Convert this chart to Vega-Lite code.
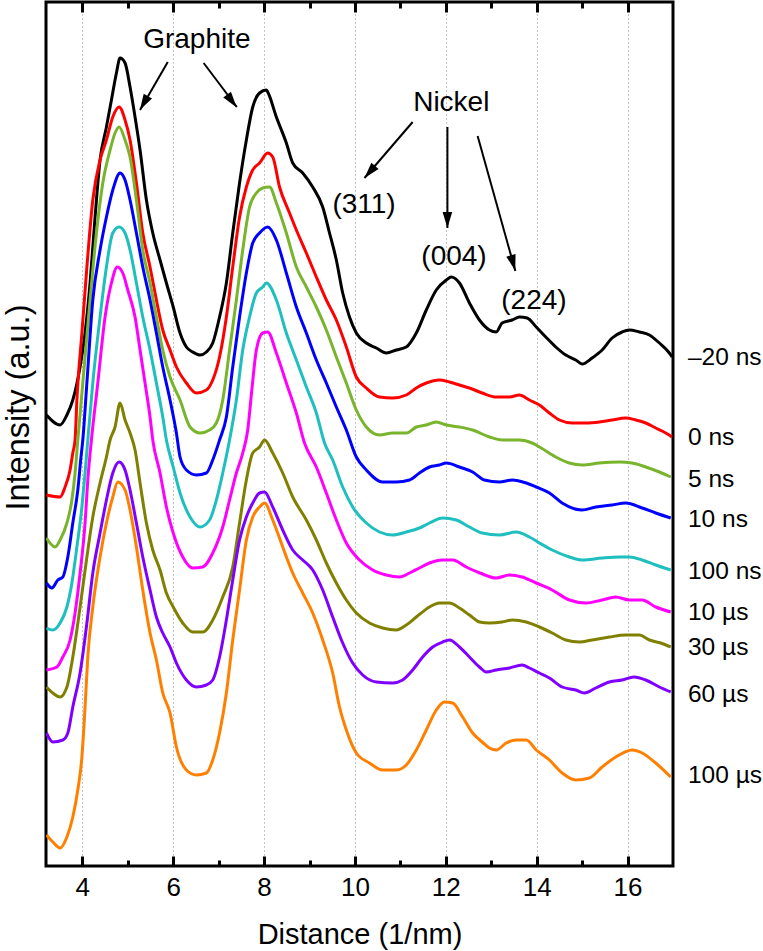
{
"$schema": "https://vega.github.io/schema/vega-lite/v6.json",
"width": 627, "height": 864,
"autosize": {"type": "none"},
"padding": {"left": 46, "top": 2, "right": 90, "bottom": 85},
"background": "white",
"config": {"view": {"stroke": "#000", "strokeWidth": 3}, "font": "Liberation Sans"},
"datasets": {
"curves": [
{"t":"–20 ns","x":3.21,"y":451},{"t":"–20 ns","x":3.51,"y":441},{"t":"–20 ns","x":3.66,"y":451},{"t":"–20 ns","x":3.79,"y":466},{"t":"–20 ns","x":3.95,"y":499},{"t":"–20 ns","x":4.06,"y":533},{"t":"–20 ns","x":4.17,"y":583},{"t":"–20 ns","x":4.28,"y":649},{"t":"–20 ns","x":4.39,"y":706},{"t":"–20 ns","x":4.53,"y":739},{"t":"–20 ns","x":4.64,"y":766},{"t":"–20 ns","x":4.75,"y":793},{"t":"–20 ns","x":4.83,"y":808},{"t":"–20 ns","x":4.94,"y":803},{"t":"–20 ns","x":5.05,"y":779},{"t":"–20 ns","x":5.16,"y":749},{"t":"–20 ns","x":5.27,"y":716},{"t":"–20 ns","x":5.41,"y":666},{"t":"–20 ns","x":5.55,"y":633},{"t":"–20 ns","x":5.71,"y":606},{"t":"–20 ns","x":5.85,"y":583},{"t":"–20 ns","x":6.0,"y":559},{"t":"–20 ns","x":6.15,"y":533},{"t":"–20 ns","x":6.29,"y":519},{"t":"–20 ns","x":6.43,"y":514},{"t":"–20 ns","x":6.59,"y":511},{"t":"–20 ns","x":6.73,"y":514},{"t":"–20 ns","x":6.87,"y":523},{"t":"–20 ns","x":7.02,"y":549},{"t":"–20 ns","x":7.17,"y":583},{"t":"–20 ns","x":7.31,"y":633},{"t":"–20 ns","x":7.46,"y":683},{"t":"–20 ns","x":7.61,"y":726},{"t":"–20 ns","x":7.75,"y":759},{"t":"–20 ns","x":7.9,"y":773},{"t":"–20 ns","x":8.05,"y":776},{"t":"–20 ns","x":8.08,"y":774},{"t":"–20 ns","x":8.27,"y":749},{"t":"–20 ns","x":8.49,"y":723},{"t":"–20 ns","x":8.63,"y":703},{"t":"–20 ns","x":8.85,"y":693},{"t":"–20 ns","x":9.07,"y":679},{"t":"–20 ns","x":9.29,"y":659},{"t":"–20 ns","x":9.44,"y":633},{"t":"–20 ns","x":9.59,"y":606},{"t":"–20 ns","x":9.73,"y":573},{"t":"–20 ns","x":9.88,"y":549},{"t":"–20 ns","x":10.03,"y":533},{"t":"–20 ns","x":10.25,"y":523},{"t":"–20 ns","x":10.47,"y":518},{"t":"–20 ns","x":10.69,"y":513},{"t":"–20 ns","x":10.91,"y":516},{"t":"–20 ns","x":11.13,"y":519},{"t":"–20 ns","x":11.35,"y":533},{"t":"–20 ns","x":11.57,"y":556},{"t":"–20 ns","x":11.79,"y":576},{"t":"–20 ns","x":12.01,"y":586},{"t":"–20 ns","x":12.12,"y":589},{"t":"–20 ns","x":12.3,"y":583},{"t":"–20 ns","x":12.52,"y":563},{"t":"–20 ns","x":12.74,"y":546},{"t":"–20 ns","x":12.96,"y":536},{"t":"–20 ns","x":13.11,"y":534},{"t":"–20 ns","x":13.24,"y":543},{"t":"–20 ns","x":13.46,"y":546},{"t":"–20 ns","x":13.62,"y":549},{"t":"–20 ns","x":13.79,"y":548},{"t":"–20 ns","x":13.99,"y":539},{"t":"–20 ns","x":14.2,"y":529},{"t":"–20 ns","x":14.42,"y":519},{"t":"–20 ns","x":14.64,"y":511},{"t":"–20 ns","x":14.86,"y":506},{"t":"–20 ns","x":15.0,"y":502},{"t":"–20 ns","x":15.22,"y":508},{"t":"–20 ns","x":15.44,"y":516},{"t":"–20 ns","x":15.66,"y":528},{"t":"–20 ns","x":15.88,"y":534},{"t":"–20 ns","x":16.04,"y":536},{"t":"–20 ns","x":16.26,"y":534},{"t":"–20 ns","x":16.48,"y":531},{"t":"–20 ns","x":16.7,"y":523},{"t":"–20 ns","x":16.92,"y":513},{"t":"–20 ns","x":16.98,"y":509},
{"t":"0 ns","x":3.21,"y":371},{"t":"0 ns","x":3.51,"y":369},{"t":"0 ns","x":3.62,"y":379},{"t":"0 ns","x":3.73,"y":396},{"t":"0 ns","x":3.79,"y":413},{"t":"0 ns","x":3.84,"y":426},{"t":"0 ns","x":3.88,"y":466},{"t":"0 ns","x":3.99,"y":533},{"t":"0 ns","x":4.1,"y":599},{"t":"0 ns","x":4.23,"y":666},{"t":"0 ns","x":4.39,"y":706},{"t":"0 ns","x":4.53,"y":726},{"t":"0 ns","x":4.67,"y":749},{"t":"0 ns","x":4.81,"y":759},{"t":"0 ns","x":4.94,"y":746},{"t":"0 ns","x":5.05,"y":726},{"t":"0 ns","x":5.19,"y":683},{"t":"0 ns","x":5.33,"y":633},{"t":"0 ns","x":5.49,"y":599},{"t":"0 ns","x":5.63,"y":566},{"t":"0 ns","x":5.77,"y":536},{"t":"0 ns","x":5.93,"y":516},{"t":"0 ns","x":6.07,"y":499},{"t":"0 ns","x":6.29,"y":483},{"t":"0 ns","x":6.51,"y":473},{"t":"0 ns","x":6.73,"y":476},{"t":"0 ns","x":6.87,"y":486},{"t":"0 ns","x":7.02,"y":509},{"t":"0 ns","x":7.17,"y":549},{"t":"0 ns","x":7.31,"y":599},{"t":"0 ns","x":7.46,"y":649},{"t":"0 ns","x":7.61,"y":679},{"t":"0 ns","x":7.75,"y":696},{"t":"0 ns","x":7.9,"y":703},{"t":"0 ns","x":8.08,"y":713},{"t":"0 ns","x":8.19,"y":709},{"t":"0 ns","x":8.34,"y":679},{"t":"0 ns","x":8.56,"y":653},{"t":"0 ns","x":8.71,"y":636},{"t":"0 ns","x":8.93,"y":613},{"t":"0 ns","x":9.15,"y":589},{"t":"0 ns","x":9.37,"y":566},{"t":"0 ns","x":9.59,"y":546},{"t":"0 ns","x":9.81,"y":519},{"t":"0 ns","x":10.03,"y":489},{"t":"0 ns","x":10.25,"y":478},{"t":"0 ns","x":10.54,"y":469},{"t":"0 ns","x":10.83,"y":468},{"t":"0 ns","x":11.13,"y":471},{"t":"0 ns","x":11.35,"y":478},{"t":"0 ns","x":11.57,"y":483},{"t":"0 ns","x":11.86,"y":486},{"t":"0 ns","x":12.08,"y":484},{"t":"0 ns","x":12.3,"y":481},{"t":"0 ns","x":12.52,"y":478},{"t":"0 ns","x":12.8,"y":473},{"t":"0 ns","x":13.11,"y":469},{"t":"0 ns","x":13.4,"y":469},{"t":"0 ns","x":13.62,"y":471},{"t":"0 ns","x":13.84,"y":466},{"t":"0 ns","x":14.06,"y":461},{"t":"0 ns","x":14.28,"y":453},{"t":"0 ns","x":14.5,"y":446},{"t":"0 ns","x":14.78,"y":443},{"t":"0 ns","x":15.08,"y":443},{"t":"0 ns","x":15.38,"y":444},{"t":"0 ns","x":15.66,"y":446},{"t":"0 ns","x":15.96,"y":448},{"t":"0 ns","x":16.18,"y":446},{"t":"0 ns","x":16.4,"y":443},{"t":"0 ns","x":16.62,"y":438},{"t":"0 ns","x":16.84,"y":433},{"t":"0 ns","x":16.98,"y":429},
{"t":"5 ns","x":3.21,"y":328},{"t":"5 ns","x":3.4,"y":319},{"t":"5 ns","x":3.51,"y":326},{"t":"5 ns","x":3.66,"y":343},{"t":"5 ns","x":3.77,"y":366},{"t":"5 ns","x":3.84,"y":393},{"t":"5 ns","x":3.9,"y":426},{"t":"5 ns","x":4.01,"y":483},{"t":"5 ns","x":4.17,"y":566},{"t":"5 ns","x":4.31,"y":633},{"t":"5 ns","x":4.45,"y":683},{"t":"5 ns","x":4.61,"y":716},{"t":"5 ns","x":4.72,"y":733},{"t":"5 ns","x":4.81,"y":739},{"t":"5 ns","x":4.94,"y":726},{"t":"5 ns","x":5.05,"y":709},{"t":"5 ns","x":5.19,"y":666},{"t":"5 ns","x":5.33,"y":616},{"t":"5 ns","x":5.49,"y":583},{"t":"5 ns","x":5.63,"y":549},{"t":"5 ns","x":5.77,"y":516},{"t":"5 ns","x":5.93,"y":489},{"t":"5 ns","x":6.15,"y":466},{"t":"5 ns","x":6.37,"y":439},{"t":"5 ns","x":6.59,"y":433},{"t":"5 ns","x":6.8,"y":436},{"t":"5 ns","x":6.95,"y":443},{"t":"5 ns","x":7.09,"y":466},{"t":"5 ns","x":7.24,"y":516},{"t":"5 ns","x":7.39,"y":566},{"t":"5 ns","x":7.53,"y":616},{"t":"5 ns","x":7.68,"y":659},{"t":"5 ns","x":7.83,"y":673},{"t":"5 ns","x":7.97,"y":678},{"t":"5 ns","x":8.12,"y":679},{"t":"5 ns","x":8.27,"y":663},{"t":"5 ns","x":8.49,"y":633},{"t":"5 ns","x":8.71,"y":599},{"t":"5 ns","x":8.93,"y":579},{"t":"5 ns","x":9.15,"y":559},{"t":"5 ns","x":9.37,"y":536},{"t":"5 ns","x":9.59,"y":509},{"t":"5 ns","x":9.81,"y":483},{"t":"5 ns","x":10.03,"y":456},{"t":"5 ns","x":10.25,"y":439},{"t":"5 ns","x":10.54,"y":431},{"t":"5 ns","x":10.83,"y":433},{"t":"5 ns","x":11.13,"y":433},{"t":"5 ns","x":11.35,"y":439},{"t":"5 ns","x":11.57,"y":441},{"t":"5 ns","x":11.79,"y":444},{"t":"5 ns","x":12.01,"y":441},{"t":"5 ns","x":12.3,"y":439},{"t":"5 ns","x":12.59,"y":436},{"t":"5 ns","x":12.96,"y":429},{"t":"5 ns","x":13.24,"y":426},{"t":"5 ns","x":13.62,"y":426},{"t":"5 ns","x":13.9,"y":423},{"t":"5 ns","x":14.1,"y":418},{"t":"5 ns","x":14.42,"y":409},{"t":"5 ns","x":14.72,"y":403},{"t":"5 ns","x":15.0,"y":401},{"t":"5 ns","x":15.38,"y":403},{"t":"5 ns","x":15.82,"y":404},{"t":"5 ns","x":16.1,"y":403},{"t":"5 ns","x":16.4,"y":399},{"t":"5 ns","x":16.7,"y":394},{"t":"5 ns","x":16.95,"y":389},
{"t":"10 ns","x":3.21,"y":283},{"t":"10 ns","x":3.33,"y":278},{"t":"10 ns","x":3.46,"y":286},{"t":"10 ns","x":3.57,"y":289},{"t":"10 ns","x":3.68,"y":309},{"t":"10 ns","x":3.79,"y":343},{"t":"10 ns","x":3.9,"y":376},{"t":"10 ns","x":3.97,"y":409},{"t":"10 ns","x":4.01,"y":426},{"t":"10 ns","x":4.1,"y":483},{"t":"10 ns","x":4.23,"y":566},{"t":"10 ns","x":4.39,"y":616},{"t":"10 ns","x":4.53,"y":649},{"t":"10 ns","x":4.67,"y":676},{"t":"10 ns","x":4.83,"y":693},{"t":"10 ns","x":4.94,"y":686},{"t":"10 ns","x":5.05,"y":666},{"t":"10 ns","x":5.19,"y":633},{"t":"10 ns","x":5.33,"y":599},{"t":"10 ns","x":5.49,"y":566},{"t":"10 ns","x":5.63,"y":533},{"t":"10 ns","x":5.77,"y":499},{"t":"10 ns","x":5.93,"y":466},{"t":"10 ns","x":6.07,"y":433},{"t":"10 ns","x":6.15,"y":409},{"t":"10 ns","x":6.29,"y":396},{"t":"10 ns","x":6.51,"y":391},{"t":"10 ns","x":6.73,"y":393},{"t":"10 ns","x":6.87,"y":406},{"t":"10 ns","x":7.02,"y":426},{"t":"10 ns","x":7.17,"y":449},{"t":"10 ns","x":7.31,"y":499},{"t":"10 ns","x":7.46,"y":549},{"t":"10 ns","x":7.61,"y":593},{"t":"10 ns","x":7.75,"y":623},{"t":"10 ns","x":7.9,"y":633},{"t":"10 ns","x":8.08,"y":639},{"t":"10 ns","x":8.27,"y":626},{"t":"10 ns","x":8.49,"y":593},{"t":"10 ns","x":8.71,"y":559},{"t":"10 ns","x":8.93,"y":533},{"t":"10 ns","x":9.15,"y":506},{"t":"10 ns","x":9.37,"y":483},{"t":"10 ns","x":9.59,"y":459},{"t":"10 ns","x":9.81,"y":436},{"t":"10 ns","x":10.03,"y":409},{"t":"10 ns","x":10.25,"y":396},{"t":"10 ns","x":10.61,"y":384},{"t":"10 ns","x":10.91,"y":384},{"t":"10 ns","x":11.2,"y":386},{"t":"10 ns","x":11.42,"y":393},{"t":"10 ns","x":11.64,"y":399},{"t":"10 ns","x":11.86,"y":401},{"t":"10 ns","x":12.01,"y":403},{"t":"10 ns","x":12.3,"y":399},{"t":"10 ns","x":12.59,"y":394},{"t":"10 ns","x":12.85,"y":386},{"t":"10 ns","x":13.18,"y":384},{"t":"10 ns","x":13.46,"y":386},{"t":"10 ns","x":13.77,"y":383},{"t":"10 ns","x":13.99,"y":379},{"t":"10 ns","x":14.28,"y":373},{"t":"10 ns","x":14.56,"y":363},{"t":"10 ns","x":15.0,"y":356},{"t":"10 ns","x":15.3,"y":359},{"t":"10 ns","x":15.66,"y":361},{"t":"10 ns","x":15.96,"y":363},{"t":"10 ns","x":16.32,"y":358},{"t":"10 ns","x":16.62,"y":353},{"t":"10 ns","x":16.95,"y":348},
{"t":"100 ns","x":3.21,"y":238},{"t":"100 ns","x":3.35,"y":236},{"t":"100 ns","x":3.51,"y":243},{"t":"100 ns","x":3.66,"y":259},{"t":"100 ns","x":3.77,"y":283},{"t":"100 ns","x":3.88,"y":319},{"t":"100 ns","x":3.99,"y":359},{"t":"100 ns","x":4.06,"y":393},{"t":"100 ns","x":4.12,"y":426},{"t":"100 ns","x":4.23,"y":483},{"t":"100 ns","x":4.39,"y":549},{"t":"100 ns","x":4.53,"y":599},{"t":"100 ns","x":4.67,"y":633},{"t":"100 ns","x":4.81,"y":639},{"t":"100 ns","x":4.94,"y":633},{"t":"100 ns","x":5.05,"y":616},{"t":"100 ns","x":5.19,"y":583},{"t":"100 ns","x":5.33,"y":549},{"t":"100 ns","x":5.49,"y":516},{"t":"100 ns","x":5.63,"y":483},{"t":"100 ns","x":5.77,"y":449},{"t":"100 ns","x":5.85,"y":426},{"t":"100 ns","x":6.0,"y":399},{"t":"100 ns","x":6.15,"y":373},{"t":"100 ns","x":6.37,"y":349},{"t":"100 ns","x":6.59,"y":339},{"t":"100 ns","x":6.8,"y":346},{"t":"100 ns","x":6.95,"y":366},{"t":"100 ns","x":7.09,"y":393},{"t":"100 ns","x":7.24,"y":426},{"t":"100 ns","x":7.39,"y":466},{"t":"100 ns","x":7.53,"y":516},{"t":"100 ns","x":7.68,"y":549},{"t":"100 ns","x":7.83,"y":573},{"t":"100 ns","x":7.97,"y":579},{"t":"100 ns","x":8.05,"y":583},{"t":"100 ns","x":8.27,"y":566},{"t":"100 ns","x":8.49,"y":533},{"t":"100 ns","x":8.71,"y":506},{"t":"100 ns","x":8.93,"y":479},{"t":"100 ns","x":9.15,"y":453},{"t":"100 ns","x":9.33,"y":423},{"t":"100 ns","x":9.51,"y":406},{"t":"100 ns","x":9.73,"y":379},{"t":"100 ns","x":9.95,"y":359},{"t":"100 ns","x":10.25,"y":343},{"t":"100 ns","x":10.54,"y":334},{"t":"100 ns","x":10.83,"y":331},{"t":"100 ns","x":11.13,"y":334},{"t":"100 ns","x":11.42,"y":338},{"t":"100 ns","x":11.64,"y":343},{"t":"100 ns","x":11.93,"y":348},{"t":"100 ns","x":12.23,"y":346},{"t":"100 ns","x":12.52,"y":339},{"t":"100 ns","x":12.8,"y":333},{"t":"100 ns","x":13.18,"y":331},{"t":"100 ns","x":13.55,"y":334},{"t":"100 ns","x":13.84,"y":329},{"t":"100 ns","x":14.06,"y":323},{"t":"100 ns","x":14.34,"y":316},{"t":"100 ns","x":14.72,"y":309},{"t":"100 ns","x":15.0,"y":306},{"t":"100 ns","x":15.44,"y":308},{"t":"100 ns","x":15.82,"y":309},{"t":"100 ns","x":16.04,"y":309},{"t":"100 ns","x":16.32,"y":306},{"t":"100 ns","x":16.62,"y":301},{"t":"100 ns","x":16.95,"y":296},
{"t":"10 µs","x":3.21,"y":196},{"t":"10 µs","x":3.44,"y":199},{"t":"10 µs","x":3.57,"y":209},{"t":"10 µs","x":3.73,"y":226},{"t":"10 µs","x":3.84,"y":253},{"t":"10 µs","x":3.95,"y":293},{"t":"10 µs","x":4.06,"y":343},{"t":"10 µs","x":4.12,"y":386},{"t":"10 µs","x":4.2,"y":426},{"t":"10 µs","x":4.34,"y":483},{"t":"10 µs","x":4.5,"y":549},{"t":"10 µs","x":4.64,"y":583},{"t":"10 µs","x":4.77,"y":599},{"t":"10 µs","x":4.89,"y":593},{"t":"10 µs","x":5.0,"y":576},{"t":"10 µs","x":5.16,"y":549},{"t":"10 µs","x":5.27,"y":516},{"t":"10 µs","x":5.38,"y":483},{"t":"10 µs","x":5.49,"y":449},{"t":"10 µs","x":5.55,"y":426},{"t":"10 µs","x":5.71,"y":393},{"t":"10 µs","x":5.85,"y":359},{"t":"10 µs","x":6.0,"y":333},{"t":"10 µs","x":6.21,"y":309},{"t":"10 µs","x":6.43,"y":298},{"t":"10 µs","x":6.65,"y":299},{"t":"10 µs","x":6.87,"y":313},{"t":"10 µs","x":7.09,"y":339},{"t":"10 µs","x":7.24,"y":366},{"t":"10 µs","x":7.39,"y":393},{"t":"10 µs","x":7.53,"y":413},{"t":"10 µs","x":7.64,"y":436},{"t":"10 µs","x":7.73,"y":476},{"t":"10 µs","x":7.83,"y":516},{"t":"10 µs","x":7.97,"y":533},{"t":"10 µs","x":8.08,"y":534},{"t":"10 µs","x":8.27,"y":513},{"t":"10 µs","x":8.49,"y":483},{"t":"10 µs","x":8.71,"y":453},{"t":"10 µs","x":8.89,"y":423},{"t":"10 µs","x":9.15,"y":399},{"t":"10 µs","x":9.37,"y":373},{"t":"10 µs","x":9.59,"y":346},{"t":"10 µs","x":9.81,"y":323},{"t":"10 µs","x":10.1,"y":306},{"t":"10 µs","x":10.39,"y":296},{"t":"10 µs","x":10.69,"y":291},{"t":"10 µs","x":10.98,"y":289},{"t":"10 µs","x":11.2,"y":293},{"t":"10 µs","x":11.42,"y":298},{"t":"10 µs","x":11.64,"y":303},{"t":"10 µs","x":11.93,"y":306},{"t":"10 µs","x":12.15,"y":306},{"t":"10 µs","x":12.45,"y":299},{"t":"10 µs","x":12.75,"y":293},{"t":"10 µs","x":13.11,"y":288},{"t":"10 µs","x":13.4,"y":291},{"t":"10 µs","x":13.68,"y":289},{"t":"10 µs","x":13.99,"y":283},{"t":"10 µs","x":14.34,"y":276},{"t":"10 µs","x":14.72,"y":266},{"t":"10 µs","x":15.08,"y":263},{"t":"10 µs","x":15.44,"y":266},{"t":"10 µs","x":15.74,"y":269},{"t":"10 µs","x":16.04,"y":266},{"t":"10 µs","x":16.32,"y":266},{"t":"10 µs","x":16.62,"y":259},{"t":"10 µs","x":16.95,"y":254},
{"t":"30 µs","x":3.21,"y":179},{"t":"30 µs","x":3.35,"y":173},{"t":"30 µs","x":3.51,"y":169},{"t":"30 µs","x":3.66,"y":179},{"t":"30 µs","x":3.79,"y":209},{"t":"30 µs","x":3.95,"y":259},{"t":"30 µs","x":4.1,"y":309},{"t":"30 µs","x":4.23,"y":349},{"t":"30 µs","x":4.39,"y":383},{"t":"30 µs","x":4.53,"y":409},{"t":"30 µs","x":4.61,"y":426},{"t":"30 µs","x":4.72,"y":439},{"t":"30 µs","x":4.83,"y":463},{"t":"30 µs","x":4.94,"y":446},{"t":"30 µs","x":5.05,"y":433},{"t":"30 µs","x":5.16,"y":416},{"t":"30 µs","x":5.27,"y":383},{"t":"30 µs","x":5.41,"y":343},{"t":"30 µs","x":5.55,"y":316},{"t":"30 µs","x":5.71,"y":296},{"t":"30 µs","x":5.85,"y":273},{"t":"30 µs","x":6.0,"y":259},{"t":"30 µs","x":6.21,"y":243},{"t":"30 µs","x":6.43,"y":234},{"t":"30 µs","x":6.65,"y":234},{"t":"30 µs","x":6.87,"y":246},{"t":"30 µs","x":7.09,"y":269},{"t":"30 µs","x":7.31,"y":299},{"t":"30 µs","x":7.46,"y":343},{"t":"30 µs","x":7.61,"y":386},{"t":"30 µs","x":7.75,"y":413},{"t":"30 µs","x":7.9,"y":419},{"t":"30 µs","x":8.01,"y":426},{"t":"30 µs","x":8.19,"y":413},{"t":"30 µs","x":8.41,"y":393},{"t":"30 µs","x":8.63,"y":369},{"t":"30 µs","x":8.93,"y":346},{"t":"30 µs","x":9.15,"y":326},{"t":"30 µs","x":9.37,"y":303},{"t":"30 µs","x":9.59,"y":283},{"t":"30 µs","x":9.81,"y":266},{"t":"30 µs","x":10.03,"y":253},{"t":"30 µs","x":10.32,"y":243},{"t":"30 µs","x":10.61,"y":238},{"t":"30 µs","x":10.91,"y":236},{"t":"30 µs","x":11.13,"y":241},{"t":"30 µs","x":11.35,"y":249},{"t":"30 µs","x":11.64,"y":259},{"t":"30 µs","x":11.86,"y":263},{"t":"30 µs","x":12.08,"y":263},{"t":"30 µs","x":12.3,"y":258},{"t":"30 µs","x":12.52,"y":251},{"t":"30 µs","x":12.74,"y":244},{"t":"30 µs","x":12.96,"y":243},{"t":"30 µs","x":13.24,"y":244},{"t":"30 µs","x":13.46,"y":246},{"t":"30 µs","x":13.77,"y":244},{"t":"30 µs","x":14.06,"y":239},{"t":"30 µs","x":14.34,"y":233},{"t":"30 µs","x":14.64,"y":226},{"t":"30 µs","x":14.94,"y":224},{"t":"30 µs","x":15.22,"y":226},{"t":"30 µs","x":15.6,"y":229},{"t":"30 µs","x":15.96,"y":231},{"t":"30 µs","x":16.26,"y":231},{"t":"30 µs","x":16.48,"y":226},{"t":"30 µs","x":16.73,"y":223},{"t":"30 µs","x":16.95,"y":219},
{"t":"60 µs","x":3.21,"y":133},{"t":"60 µs","x":3.35,"y":124},{"t":"60 µs","x":3.57,"y":126},{"t":"60 µs","x":3.68,"y":133},{"t":"60 µs","x":3.79,"y":159},{"t":"60 µs","x":3.95,"y":193},{"t":"60 µs","x":4.1,"y":243},{"t":"60 µs","x":4.23,"y":293},{"t":"60 µs","x":4.39,"y":333},{"t":"60 µs","x":4.53,"y":366},{"t":"60 µs","x":4.67,"y":393},{"t":"60 µs","x":4.81,"y":404},{"t":"60 µs","x":4.94,"y":396},{"t":"60 µs","x":5.05,"y":376},{"t":"60 µs","x":5.19,"y":343},{"t":"60 µs","x":5.33,"y":309},{"t":"60 µs","x":5.49,"y":276},{"t":"60 µs","x":5.63,"y":249},{"t":"60 µs","x":5.77,"y":233},{"t":"60 µs","x":5.93,"y":219},{"t":"60 µs","x":6.07,"y":203},{"t":"60 µs","x":6.29,"y":186},{"t":"60 µs","x":6.51,"y":179},{"t":"60 µs","x":6.73,"y":181},{"t":"60 µs","x":6.87,"y":186},{"t":"60 µs","x":7.02,"y":209},{"t":"60 µs","x":7.17,"y":246},{"t":"60 µs","x":7.31,"y":286},{"t":"60 µs","x":7.46,"y":326},{"t":"60 µs","x":7.61,"y":349},{"t":"60 µs","x":7.75,"y":363},{"t":"60 µs","x":7.9,"y":373},{"t":"60 µs","x":8.01,"y":374},{"t":"60 µs","x":8.19,"y":359},{"t":"60 µs","x":8.41,"y":336},{"t":"60 µs","x":8.63,"y":316},{"t":"60 µs","x":8.85,"y":306},{"t":"60 µs","x":9.07,"y":296},{"t":"60 µs","x":9.29,"y":276},{"t":"60 µs","x":9.51,"y":249},{"t":"60 µs","x":9.73,"y":223},{"t":"60 µs","x":9.95,"y":203},{"t":"60 µs","x":10.17,"y":191},{"t":"60 µs","x":10.47,"y":184},{"t":"60 µs","x":10.83,"y":183},{"t":"60 µs","x":11.05,"y":186},{"t":"60 µs","x":11.27,"y":196},{"t":"60 µs","x":11.49,"y":209},{"t":"60 µs","x":11.71,"y":219},{"t":"60 µs","x":11.93,"y":224},{"t":"60 µs","x":12.08,"y":226},{"t":"60 µs","x":12.3,"y":219},{"t":"60 µs","x":12.52,"y":209},{"t":"60 µs","x":12.74,"y":199},{"t":"60 µs","x":12.89,"y":194},{"t":"60 µs","x":13.11,"y":196},{"t":"60 µs","x":13.4,"y":198},{"t":"60 µs","x":13.68,"y":201},{"t":"60 µs","x":13.84,"y":198},{"t":"60 µs","x":14.06,"y":193},{"t":"60 µs","x":14.28,"y":188},{"t":"60 µs","x":14.56,"y":179},{"t":"60 µs","x":14.86,"y":176},{"t":"60 µs","x":15.05,"y":173},{"t":"60 µs","x":15.3,"y":178},{"t":"60 µs","x":15.6,"y":184},{"t":"60 µs","x":15.88,"y":186},{"t":"60 µs","x":16.14,"y":189},{"t":"60 µs","x":16.4,"y":186},{"t":"60 µs","x":16.7,"y":179},{"t":"60 µs","x":16.95,"y":174},
{"t":"100 µs","x":3.21,"y":31},{"t":"100 µs","x":3.35,"y":24},{"t":"100 µs","x":3.51,"y":18},{"t":"100 µs","x":3.66,"y":29},{"t":"100 µs","x":3.79,"y":49},{"t":"100 µs","x":3.9,"y":76},{"t":"100 µs","x":3.99,"y":109},{"t":"100 µs","x":4.06,"y":159},{"t":"100 µs","x":4.12,"y":209},{"t":"100 µs","x":4.23,"y":259},{"t":"100 µs","x":4.39,"y":309},{"t":"100 µs","x":4.53,"y":343},{"t":"100 µs","x":4.67,"y":369},{"t":"100 µs","x":4.78,"y":384},{"t":"100 µs","x":4.94,"y":376},{"t":"100 µs","x":5.05,"y":356},{"t":"100 µs","x":5.19,"y":319},{"t":"100 µs","x":5.33,"y":276},{"t":"100 µs","x":5.49,"y":233},{"t":"100 µs","x":5.63,"y":206},{"t":"100 µs","x":5.77,"y":173},{"t":"100 µs","x":5.93,"y":153},{"t":"100 µs","x":6.07,"y":119},{"t":"100 µs","x":6.29,"y":96},{"t":"100 µs","x":6.51,"y":91},{"t":"100 µs","x":6.73,"y":93},{"t":"100 µs","x":6.87,"y":106},{"t":"100 µs","x":7.02,"y":133},{"t":"100 µs","x":7.17,"y":173},{"t":"100 µs","x":7.31,"y":226},{"t":"100 µs","x":7.46,"y":276},{"t":"100 µs","x":7.61,"y":326},{"t":"100 µs","x":7.75,"y":349},{"t":"100 µs","x":7.9,"y":359},{"t":"100 µs","x":8.01,"y":363},{"t":"100 µs","x":8.19,"y":346},{"t":"100 µs","x":8.41,"y":319},{"t":"100 µs","x":8.63,"y":293},{"t":"100 µs","x":8.85,"y":273},{"t":"100 µs","x":9.07,"y":253},{"t":"100 µs","x":9.29,"y":226},{"t":"100 µs","x":9.51,"y":193},{"t":"100 µs","x":9.66,"y":159},{"t":"100 µs","x":9.81,"y":136},{"t":"100 µs","x":10.03,"y":113},{"t":"100 µs","x":10.32,"y":103},{"t":"100 µs","x":10.61,"y":96},{"t":"100 µs","x":10.91,"y":96},{"t":"100 µs","x":11.13,"y":101},{"t":"100 µs","x":11.35,"y":116},{"t":"100 µs","x":11.57,"y":136},{"t":"100 µs","x":11.79,"y":156},{"t":"100 µs","x":11.97,"y":164},{"t":"100 µs","x":12.15,"y":163},{"t":"100 µs","x":12.37,"y":149},{"t":"100 µs","x":12.59,"y":133},{"t":"100 µs","x":12.8,"y":124},{"t":"100 µs","x":12.96,"y":118},{"t":"100 µs","x":13.11,"y":116},{"t":"100 µs","x":13.33,"y":123},{"t":"100 µs","x":13.55,"y":126},{"t":"100 µs","x":13.77,"y":126},{"t":"100 µs","x":13.99,"y":116},{"t":"100 µs","x":14.28,"y":106},{"t":"100 µs","x":14.56,"y":93},{"t":"100 µs","x":14.86,"y":86},{"t":"100 µs","x":15.16,"y":88},{"t":"100 µs","x":15.44,"y":99},{"t":"100 µs","x":15.74,"y":109},{"t":"100 µs","x":16.1,"y":116},{"t":"100 µs","x":16.32,"y":113},{"t":"100 µs","x":16.62,"y":103},{"t":"100 µs","x":16.95,"y":89}
],
"labs": [
{"t":"–20 ns","x":17.33,"y":508},{"t":"0 ns","x":17.33,"y":428},{"t":"5 ns","x":17.33,"y":386},{"t":"10 ns","x":17.33,"y":346},{"t":"100 ns","x":17.33,"y":294},{"t":"10 µs","x":17.33,"y":253},{"t":"30 µs","x":17.33,"y":218},{"t":"60 µs","x":17.33,"y":171},{"t":"100 µs","x":17.33,"y":90}
],
"notes": [
{"txt":"Graphite","x":6.52,"y":826},{"txt":"Nickel","x":12.12,"y":763},{"txt":"(311)","x":10.2,"y":661},{"txt":"(004)","x":12.18,"y":609},{"txt":"(224)","x":13.94,"y":565}
],
"arrows": [
{"x":5.88,"y":804,"x2":5.27,"y2":756},{"x":6.67,"y":803,"x2":7.4,"y2":759},{"x":11.27,"y":744,"x2":10.21,"y2":688},{"x":12.035,"y":739,"x2":12.035,"y2":638},{"x":12.7,"y":730,"x2":13.53,"y2":595}
],
"heads": [
{"x":5.354,"y":763,"a":210},{"x":7.292,"y":765,"a":143},{"x":10.325,"y":694,"a":221},{"x":12.035,"y":646,"a":180},{"x":13.481,"y":603,"a":164}
],
"anchor": [{"x":4,"y":0},{"x":16,"y":0}]
},
"resolve": {"axis": {"x": "independent", "y": "independent"}},
"layer": [
{
"data": {"name": "anchor"},
"mark": {"type": "point", "opacity": 0},
"encoding": {
"x": {"field": "x", "type": "quantitative", "axis": {"orient": "bottom", "values": [4,6,8,10,12,14,16], "labels": false, "ticks": false, "title": null, "domain": false, "grid": true, "gridColor": "#888", "gridDash": [1, 3], "gridWidth": 1}},
"y": {"field": "y", "type": "quantitative", "axis": null}
}
},
{
"data": {"name": "anchor"},
"mark": {"type": "point", "opacity": 0},
"encoding": {
"x": {"field": "x", "type": "quantitative", "axis": {"orient": "bottom", "values": [5,7,9,11,13,15], "labels": false, "title": null, "domain": false, "grid": false, "tickSize": -6, "tickWidth": 3, "tickColor": "#000"}},
"y": {"field": "y", "type": "quantitative", "axis": null}
}
},
{
"data": {"name": "anchor"},
"mark": {"type": "point", "opacity": 0},
"encoding": {
"x": {"field": "x", "type": "quantitative", "axis": {"orient": "top", "values": [4,6,8,10,12,14,16], "labels": false, "title": null, "domain": false, "grid": false, "tickSize": -10, "tickWidth": 3, "tickColor": "#000"}},
"y": {"field": "y", "type": "quantitative", "axis": null}
}
},
{
"data": {"name": "anchor"},
"mark": {"type": "point", "opacity": 0},
"encoding": {
"x": {"field": "x", "type": "quantitative", "axis": {"orient": "top", "values": [5,7,9,11,13,15], "labels": false, "title": null, "domain": false, "grid": false, "tickSize": -6, "tickWidth": 3, "tickColor": "#000"}},
"y": {"field": "y", "type": "quantitative", "axis": null}
}
},
{
"data": {"name": "curves"},
"mark": {"type": "line", "strokeWidth": 3, "clip": true, "interpolate": "monotone"},
"encoding": {
"x": {"field": "x", "type": "quantitative", "scale": {"domain": [3.2, 17], "nice": false, "zero": false},
 "axis": {"orient": "bottom", "values": [4,6,8,10,12,14,16],
  "tickSize": -10, "tickWidth": 3, "tickColor": "#000", "domain": false, "grid": false,
  "labelFontSize": 26, "labelColor": "#000", "labelPadding": 18, "labelFont": "Liberation Sans",
  "title": "Distance (1/nm)", "titleFontSize": 29, "titleFontWeight": "normal", "titleColor": "#000", "titlePadding": 20, "titleFont": "Liberation Sans"}},
"y": {"field": "y", "type": "quantitative", "scale": {"domain": [0, 864], "nice": false, "zero": false},
 "axis": {"title": "Intensity (a.u.)", "labels": false, "ticks": false, "domain": false, "grid": false,
  "titleFontSize": 32.5, "titleFontWeight": "normal", "titleColor": "#000", "titlePadding": 11, "titleFont": "Liberation Sans", "titleY": 405}},
"color": {"field": "t", "type": "nominal", "legend": null,
 "scale": {"domain": ["–20 ns","0 ns","5 ns","10 ns","100 ns","10 µs","30 µs","60 µs","100 µs"],
  "range": ["#000000","#ff0000","#78b42c","#0000ff","#1fbfbf","#ff00ff","#808000","#8000ff","#ff8000"]}}
}
},
{
"data": {"name": "arrows"},
"mark": {"type": "rule", "strokeWidth": 2, "color": "#000"},
"encoding": {
"x": {"field": "x", "type": "quantitative", "axis": null},
"y": {"field": "y", "type": "quantitative", "axis": null},
"x2": {"field": "x2"},
"y2": {"field": "y2"}
}
},
{
"data": {"name": "heads"},
"mark": {"type": "point", "shape": "M0,-1L0.6,1L-0.6,1Z", "filled": true, "size": 256, "color": "#000", "opacity": 1, "strokeWidth": 0},
"encoding": {
"x": {"field": "x", "type": "quantitative", "axis": null},
"y": {"field": "y", "type": "quantitative", "axis": null},
"angle": {"field": "a", "type": "quantitative", "scale": null}
}
},
{
"data": {"name": "notes"},
"mark": {"type": "text", "fontSize": 28, "font": "Liberation Sans", "align": "center", "baseline": "middle", "color": "#000"},
"encoding": {
"x": {"field": "x", "type": "quantitative", "axis": null},
"y": {"field": "y", "type": "quantitative", "axis": null},
"text": {"field": "txt"}
}
},
{
"data": {"name": "labs"},
"mark": {"type": "text", "fontSize": 24.5, "font": "Liberation Sans", "align": "left", "baseline": "middle", "color": "#000"},
"encoding": {
"x": {"field": "x", "type": "quantitative", "axis": null},
"y": {"field": "y", "type": "quantitative", "axis": null},
"text": {"field": "t"}
}
}
]
}
